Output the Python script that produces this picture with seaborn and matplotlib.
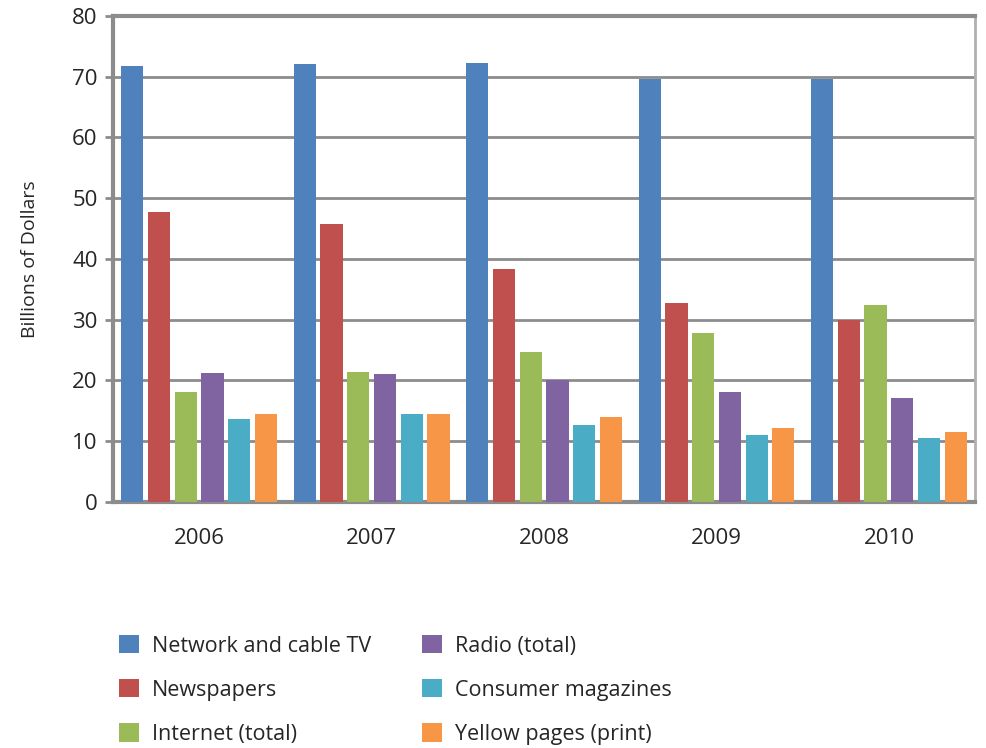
import matplotlib
matplotlib.use('Agg')
import matplotlib.pyplot as plt
import seaborn as sns
import pandas as pd

years = ['2006', '2007', '2008', '2009', '2010']
series = ['Network and cable TV', 'Newspapers', 'Internet (total)',
          'Radio (total)', 'Consumer magazines', 'Yellow pages (print)']
tv = [71.8, 72.1, 72.3, 69.7, 69.7]
newspapers = [47.8, 45.7, 38.3, 32.7, 30.0]
internet = [18.1, 21.4, 24.6, 27.8, 32.5]
radio = [21.2, 21.0, 20.0, 18.1, 17.1]
magazines = [13.6, 14.4, 12.7, 11.0, 10.5]
yellow = [14.4, 14.4, 13.9, 12.2, 11.5]
colors = ['#4F81BD', '#C0504D', '#9BBB59', '#8064A2', '#4BACC6', '#F79646']

values = [tv, newspapers, internet, radio, magazines, yellow]
rows = []
for name, vals in zip(series, values):
    for yr, v in zip(years, vals):
        rows.append({'Year': yr, 'Series': name, 'Value': v})
df = pd.DataFrame(rows)

sns.set_style('white')
plt.rcParams['font.family'] = ['Open Sans', 'DejaVu Sans']

fig = plt.figure(figsize=(9.86, 7.48), dpi=100)
ax = fig.add_axes([0.1146, 0.329, 0.8744, 0.6496])

sns.barplot(data=df, x='Year', y='Value', hue='Series', hue_order=series,
            palette=colors, width=0.93, gap=0.17, saturation=1, ax=ax,
            edgecolor='none', legend=True, zorder=3)

ax.set_ylim(0, 80)
ax.set_xlim(-0.5, 4.5)
ax.set_yticks(range(0, 81, 10))
ax.yaxis.grid(True, color='#8c8c8c', linewidth=2, zorder=0)
ax.set_axisbelow(True)
ax.set_xlabel('')
ax.set_ylabel('Billions of Dollars', fontsize=14, labelpad=24)
ax.tick_params(axis='y', labelsize=16, length=6, width=2, color='#8c8c8c',
               direction='out', pad=5, left=True)
ax.tick_params(axis='x', labelsize=16, length=0, pad=19)

for side in ['left', 'bottom', 'top']:
    ax.spines[side].set_color('#8c8c8c')
    ax.spines[side].set_linewidth(3)
ax.spines['right'].set_color('#b0b0b0')
ax.spines['right'].set_linewidth(2)

handles, labels = ax.get_legend_handles_labels()
ax.get_legend().remove()
fig.legend(handles, labels, ncol=2, loc='upper left',
           bbox_to_anchor=(0.101, 0.177), frameon=False, fontsize=15.5,
           handlelength=0.93, handleheight=0.93, handletextpad=0.6,
           labelspacing=1.05, columnspacing=2.35)

fig.savefig('out.png', dpi=100)
